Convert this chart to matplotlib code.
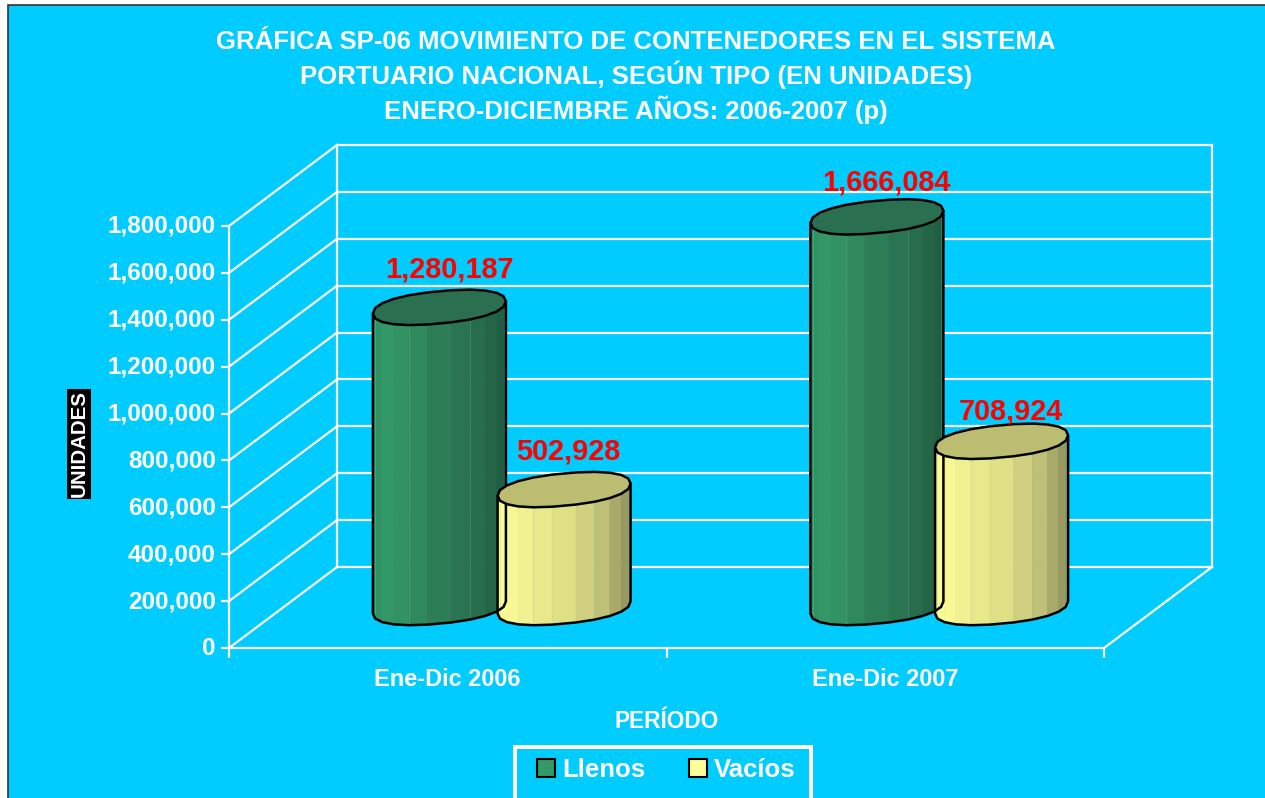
import numpy as np
import matplotlib
matplotlib.use('Agg')
import matplotlib.pyplot as plt
from matplotlib.patches import Patch, Polygon, Rectangle
from matplotlib.ticker import FixedLocator, FuncFormatter
from matplotlib.transforms import ScaledTranslation

plt.rcParams['font.family'] = ['Liberation Sans', 'DejaVu Sans']
plt.rcParams['font.weight'] = 'bold'

# datos
periodos = ['Ene-Dic 2006', 'Ene-Dic 2007']
llenos = [1280187, 1666084]
vacios = [502928, 708924]
ticks_y = [0, 200000, 400000, 600000, 800000, 1000000, 1200000, 1400000, 1600000, 1800000]

titulo = ('GRÁFICA SP-06 MOVIMIENTO DE CONTENEDORES EN EL SISTEMA\n'
          'PORTUARIO NACIONAL, SEGÚN TIPO (EN UNIDADES)\n'
          'ENERO-DICIEMBRE AÑOS: 2006-2007 (p)')

W, H = 1265, 798
CYAN = '#00CCFF'
DEPTH_X = 0.2469      # profundidad del piso, en unidades del eje x
DEPTH_Y = 345500      # profundidad del piso, en unidades del eje y
BAR_SEP = 0.1425
BAR_RX = 0.152
BAR_RY = 0.2 * DEPTH_Y
BAR_SHEAR = 0.075 * DEPTH_Y
N = 11
P = 0.88              # la base no es una elipse perfecta, es un poco mas llena

verde = ['#2F8F63', '#339966', '#2E8059', '#296F4E', '#1F5C40']
amarillo = ['#FFFF99', '#F6F694', '#E3E388', '#C8C87C', '#8F8F5C']
tapa_verde = '#2A7050'
tapa_amarilla = '#BDBD72'


def color_faceta(colores, f):
    stops = [0, 0.12, 0.45, 0.75, 1]
    rgb = np.array([matplotlib.colors.to_rgb(c) for c in colores])
    return [np.interp(f, stops, rgb[:, i]) for i in range(3)]


def contorno(t):
    c, s = np.cos(t), np.sin(t)
    cc = np.sign(c) * np.abs(c) ** P
    ss = np.sign(s) * np.abs(s) ** P
    return BAR_RX * cc, BAR_RY * ss + BAR_SHEAR * cc


def cilindro(ax, x, valor, colores, tapa):
    cx = x + DEPTH_X / 2
    y0 = DEPTH_Y / 2
    y1 = valor + DEPTH_Y / 2
    t = np.linspace(np.pi, 2 * np.pi, N + 1)
    ex, ey = contorno(t)
    ex = cx + ex

    # caras laterales
    for i in range(N):
        f = (ex[i] + ex[i + 1] - 2 * ex[0]) / 2 / (ex[-1] - ex[0])
        c = color_faceta(colores, f)
        pts = [(ex[i], y1 + ey[i]), (ex[i + 1], y1 + ey[i + 1]),
               (ex[i + 1], y0 + ey[i + 1]), (ex[i], y0 + ey[i])]
        ax.add_patch(Polygon(pts, facecolor=c, edgecolor=c, lw=0.5, zorder=5, clip_on=False))
        if i % 3 == 1:
            ax.plot([ex[i], ex[i]], [y0 + ey[i], y1 + ey[i]], color='#7FCFB0', lw=0.6, alpha=0.3,
                    zorder=5, clip_on=False)

    # contorno
    lado = list(zip(ex, y0 + ey)) + [(ex[-1], y1 + ey[-1]), (ex[0], y1 + ey[0])]
    ax.add_patch(Polygon(lado, closed=True, fill=False, edgecolor='black', lw=1.8, zorder=6,
                         joinstyle='round', clip_on=False))

    # tapa
    t2 = np.linspace(0, 2 * np.pi, 2 * N + 1)
    tx, ty = contorno(t2)
    ax.add_patch(Polygon(np.column_stack([cx + tx, y1 + ty]), closed=True, facecolor=tapa, edgecolor='black',
                         lw=1.8, zorder=7, joinstyle='round', clip_on=False))


fig = plt.figure(figsize=(W / 100, H / 100), dpi=100, facecolor='white')
fig.add_artist(Rectangle((8 / W, -0.02), 1.02, 1.02 - 5 / H, transform=fig.transFigure,
                         facecolor=CYAN, edgecolor='#333333', lw=1.2, zorder=-5, clip_on=False))

ax = fig.add_axes([229 / W, (H - 648) / H, 875 / W, 422 / H])
ax.patch.set_visible(False)
ax.set_xlim(0, 2)
ax.set_ylim(0, 1800000)
for lado in ['top', 'right']:
    ax.spines[lado].set_visible(False)
for lado in ['left', 'bottom']:
    ax.spines[lado].set_color('white')
    ax.spines[lado].set_linewidth(1.6)

# pared del fondo y pared lateral
for v in ticks_y:
    ax.plot([DEPTH_X, 2 + DEPTH_X], [v + DEPTH_Y, v + DEPTH_Y], color='white', lw=1.6, zorder=1,
            clip_on=False)
    ax.plot([0, DEPTH_X], [v, v + DEPTH_Y], color='white', lw=1.6, zorder=1, clip_on=False)
ax.plot([DEPTH_X, DEPTH_X], [DEPTH_Y, 1800000 + DEPTH_Y], color='white', lw=1.6, zorder=1, clip_on=False)
ax.plot([2 + DEPTH_X, 2 + DEPTH_X], [DEPTH_Y, 1800000 + DEPTH_Y], color='white', lw=1.6, zorder=1,
        clip_on=False)
ax.plot([2, 2 + DEPTH_X], [0, DEPTH_Y], color='white', lw=1.6, zorder=1, clip_on=False)

# ejes
ax.yaxis.set_major_locator(FixedLocator(ticks_y))
ax.yaxis.set_major_formatter(FuncFormatter(lambda v, p: f'{v:,.0f}'))
ax.tick_params(axis='y', colors='white', length=6, width=1.6, pad=3.5, labelsize=17.5)
ax.xaxis.set_major_locator(FixedLocator([0, 1, 2]))
ax.xaxis.set_major_formatter(FuncFormatter(lambda v, p: ''))
ax.xaxis.set_minor_locator(FixedLocator([0.5, 1.5]))
ax.set_xticklabels(periodos, minor=True)
ax.tick_params(axis='x', which='major', colors='white', length=7, width=1.6)
ax.tick_params(axis='x', which='minor', colors='white', length=0, pad=14.5, labelsize=16.9)
for lab in ax.get_yticklabels():
    lab.set_transform(lab.get_transform() + ScaledTranslation(0, 2 / 72 * 0.72, fig.dpi_scale_trans))

# cilindros
offs_llenos = [(10, 38), (9, 34)]
offs_vacios = [(4, 38), (9, 30)]
for i in range(len(periodos)):
    xc = i + 0.5
    cilindro(ax, xc - BAR_SEP, llenos[i], verde, tapa_verde)
    cilindro(ax, xc + BAR_SEP, vacios[i], amarillo, tapa_amarilla)
    for x, v, o in [(xc - BAR_SEP, llenos[i], offs_llenos[i]), (xc + BAR_SEP, vacios[i], offs_vacios[i])]:
        ax.annotate(f'{v:,}', (x + DEPTH_X / 2, v + DEPTH_Y / 2), xytext=(o[0] * 0.72, o[1] * 0.72),
                    textcoords='offset points', ha='center', va='center', color='#FF0000',
                    fontsize=20.8, zorder=8, annotation_clip=False)

fig.text(636 / W, 1 - 77 / H, titulo, ha='center', va='center', color='white', fontsize=18.5,
         linespacing=1.28)
fig.text(666.5 / W, 1 - 721 / H, 'PERÍODO', ha='center', va='center', color='white', fontsize=16.3)
fig.text(79 / W, 1 - 444 / H, 'UNIDADES', rotation=90, ha='center', va='center', color='white',
         fontsize=14.8, bbox=dict(facecolor='black', edgecolor='none', pad=1.5))

# leyenda
fig.add_artist(Rectangle((515 / W, -20 / H), 296 / W, (H - 747 + 20) / H, transform=fig.transFigure,
                         fill=False, edgecolor='white', lw=2.9, clip_on=False))
handles = [Patch(facecolor=verde[1], edgecolor='black', lw=1.5, label='Llenos'),
           Patch(facecolor=amarillo[0], edgecolor='black', lw=1.5, label='Vacíos')]
leg = fig.legend(handles=handles, loc='center left', bbox_to_anchor=(537 / W, 1 - 770 / H), ncol=2,
                 frameon=False, fontsize=18.5, handlelength=0.7, handleheight=0.7, handletextpad=0.27,
                 columnspacing=1.71, borderpad=0, borderaxespad=0)
for txt in leg.get_texts():
    txt.set_color('white')

fig.savefig('out.png', dpi=100, facecolor='white')
